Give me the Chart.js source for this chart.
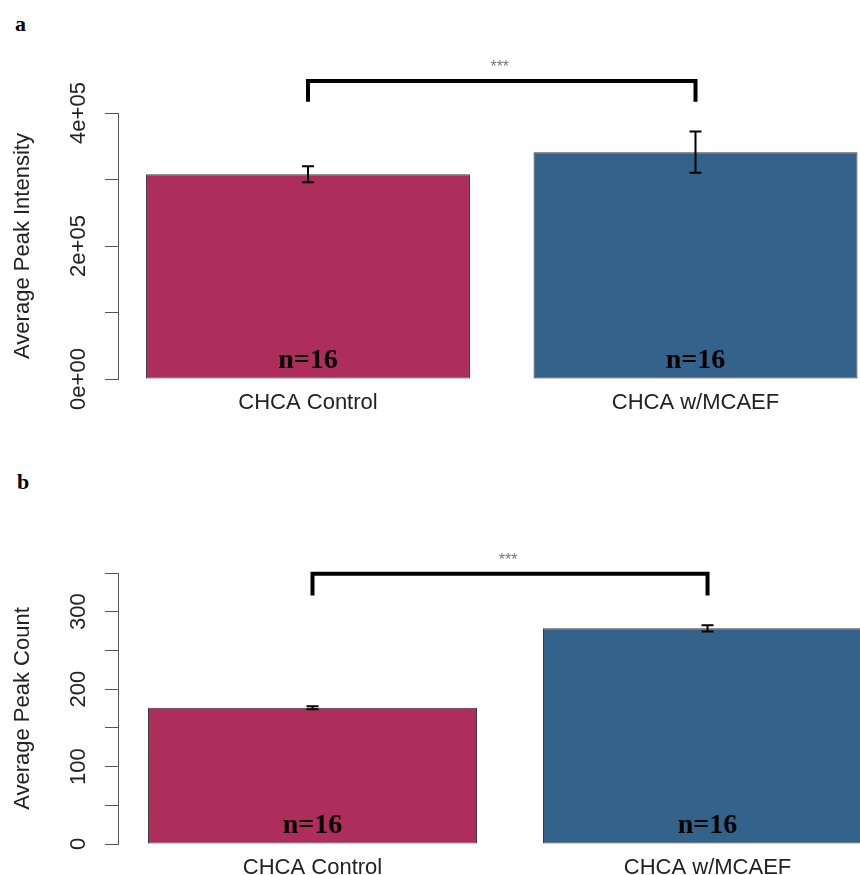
<!DOCTYPE html>
<html>
<head>
<meta charset="utf-8">
<script src="https://cdn.jsdelivr.net/npm/chart.js@4.4.0/dist/chart.umd.min.js"></script>
<style>
    body { margin: 0; background: #fff; }
    #wrap { position: relative; width: 860px; height: 875px; }
    canvas { position: absolute; left: 0; }
    .panel { position: absolute; font: bold 22px "Liberation Serif", serif; line-height: 22px; color: #000; }
</style>
</head>
<body>
<div id="wrap">
    <div class="panel" style="left:15px; top:13px;">a</div>
    <canvas id="chartA" width="860" height="430" style="top:0px"></canvas>
    <div class="panel" style="left:17px; top:471px;">b</div>
    <canvas id="chartB" width="860" height="435" style="top:440px"></canvas>
</div>
<script>
// data
var groups = ['CHCA Control', 'CHCA w/MCAEF'];
var sampleSizes = ['n=16', 'n=16'];
var intensityMean = [308000, 341000];
var intensityErr = [12000, 31000];
var countMean = [176, 278.5];
var countErr = [2, 4];
var intensityTicks = ['0e+00', '', '2e+05', '', '4e+05'];
var countTicks = ['0', '', '100', '', '200', '', '300', ''];
var barColors = ['#AD2D5B', '#33638B'];

function drawAnnotations(chart, cfg) {
    var ctx = chart.ctx;
    var xs = chart.scales.x;
    var ys = chart.scales.y;
    var area = chart.chartArea;
    ctx.save();

    // error bars + sample size labels
    for (var i = 0; i < cfg.means.length; i++) {
        var px = xs.getPixelForValue(i);
        var hi = ys.getPixelForValue(cfg.means[i] + cfg.errs[i]);
        var lo = ys.getPixelForValue(cfg.means[i] - cfg.errs[i]);
        ctx.strokeStyle = '#000';
        ctx.lineWidth = 2;
        ctx.beginPath();
        ctx.moveTo(px, hi); ctx.lineTo(px, lo);
        ctx.moveTo(px - 6, hi); ctx.lineTo(px + 6, hi);
        ctx.moveTo(px - 6, lo); ctx.lineTo(px + 6, lo);
        ctx.stroke();

        ctx.fillStyle = '#000';
        ctx.font = 'bold 28px "Liberation Serif", serif';
        ctx.textAlign = 'center';
        ctx.textBaseline = 'middle';
        ctx.fillText(sampleSizes[i], px, ys.getPixelForValue(0) - 18);
    }

    // significance bracket
    var x0 = xs.getPixelForValue(0);
    var x1 = xs.getPixelForValue(1);
    var yTop = ys.getPixelForValue(cfg.bracketTop);
    var yLeg = ys.getPixelForValue(cfg.bracketLeg);
    ctx.strokeStyle = '#000';
    ctx.lineWidth = 4;
    ctx.lineJoin = 'miter';
    ctx.lineCap = 'butt';
    ctx.beginPath();
    ctx.moveTo(x0, yLeg);
    ctx.lineTo(x0, yTop);
    ctx.lineTo(x1, yTop);
    ctx.lineTo(x1, yLeg);
    ctx.stroke();
    ctx.fillStyle = '#777';
    ctx.font = '16px "Liberation Sans", Arial, sans-serif';
    ctx.textAlign = 'center';
    ctx.textBaseline = 'alphabetic';
    ctx.fillText('***', (x0 + x1) / 2 - 2, yTop - 9);

    // rotated y tick labels
    ctx.fillStyle = '#222';
    ctx.font = '22px "Liberation Sans", Arial, sans-serif';
    for (var t = 0; t < ys.ticks.length; t++) {
        var idx = Math.round(ys.ticks[t].value / cfg.step);
        var lab = cfg.tickLabels[idx];
        if (!lab) continue;
        ctx.save();
        ctx.translate(85, ys.getPixelForValue(ys.ticks[t].value));
        ctx.rotate(-Math.PI / 2);
        ctx.textAlign = 'center';
        ctx.textBaseline = 'alphabetic';
        ctx.fillText(lab, 0, 0);
        ctx.restore();
    }

    // y axis title
    ctx.save();
    ctx.translate(29, (area.top + area.bottom) / 2);
    ctx.rotate(-Math.PI / 2);
    ctx.textAlign = 'center';
    ctx.textBaseline = 'alphabetic';
    ctx.fillText(cfg.yTitle, 0, 0);
    ctx.restore();

    ctx.restore();
}

function makeChart(id, cfg) {
    var points = [];
    for (var i = 0; i < cfg.means.length; i++) {
        points.push({ x: i, y: cfg.means[i] });
    }
    return new Chart(document.getElementById(id), {
        type: 'bar',
        data: {
            datasets: [{
                data: points,
                backgroundColor: barColors,
                borderColor: '#3c3c3c',
                borderWidth: 1,
                borderSkipped: false,
                barPercentage: cfg.barPct,
                categoryPercentage: 1
            }]
        },
        options: {
            responsive: false,
            animation: false,
            layout: { padding: { top: cfg.padTop, left: 0, right: 0, bottom: 0 } },
            plugins: { legend: { display: false }, tooltip: { enabled: false } },
            scales: {
                x: {
                    type: 'linear',
                    offset: false,
                    min: cfg.xMin,
                    max: cfg.xMax,
                    grid: { display: false },
                    border: { display: false },
                    afterBuildTicks: function (scale) {
                        scale.ticks = [{ value: 0 }, { value: 1 }];
                    },
                    afterFit: function (scale) {
                        scale.height = cfg.xHeight;
                    },
                    ticks: {
                        padding: 3,
                        color: '#222',
                        font: { family: '"Liberation Sans", Arial, sans-serif', size: 22 },
                        callback: function (v) { return groups[v]; }
                    }
                },
                y: {
                    min: 0,
                    max: cfg.yMax,
                    afterFit: function (scale) {
                        scale.width = 118;
                    },
                    ticks: { stepSize: cfg.step, display: false },
                    grid: { display: true, drawOnChartArea: false, drawTicks: true, tickLength: 13, color: '#555' },
                    border: { display: true, color: '#555', width: 1 }
                }
            }
        },
        plugins: [{
            id: 'annotations',
            afterDraw: function (chart) { drawAnnotations(chart, cfg); }
        }]
    });
}

makeChart('chartA', {
    means: intensityMean, errs: intensityErr, tickLabels: intensityTicks,
    yTitle: 'Average Peak Intensity', yMax: 400000, step: 100000,
    xMin: -0.4903, xMax: 1.4245, barPct: 0.836,
    padTop: 113, xHeight: 51,
    bracketTop: 448000, bracketLeg: 417000
});

makeChart('chartB', {
    means: countMean, errs: countErr, tickLabels: countTicks,
    yTitle: 'Average Peak Count', yMax: 350, step: 50,
    xMin: -0.4924, xMax: 1.386, barPct: 0.833,
    padTop: 133, xHeight: 31,
    bracketTop: 349, bracketLeg: 321
});
</script>
</body>
</html>
